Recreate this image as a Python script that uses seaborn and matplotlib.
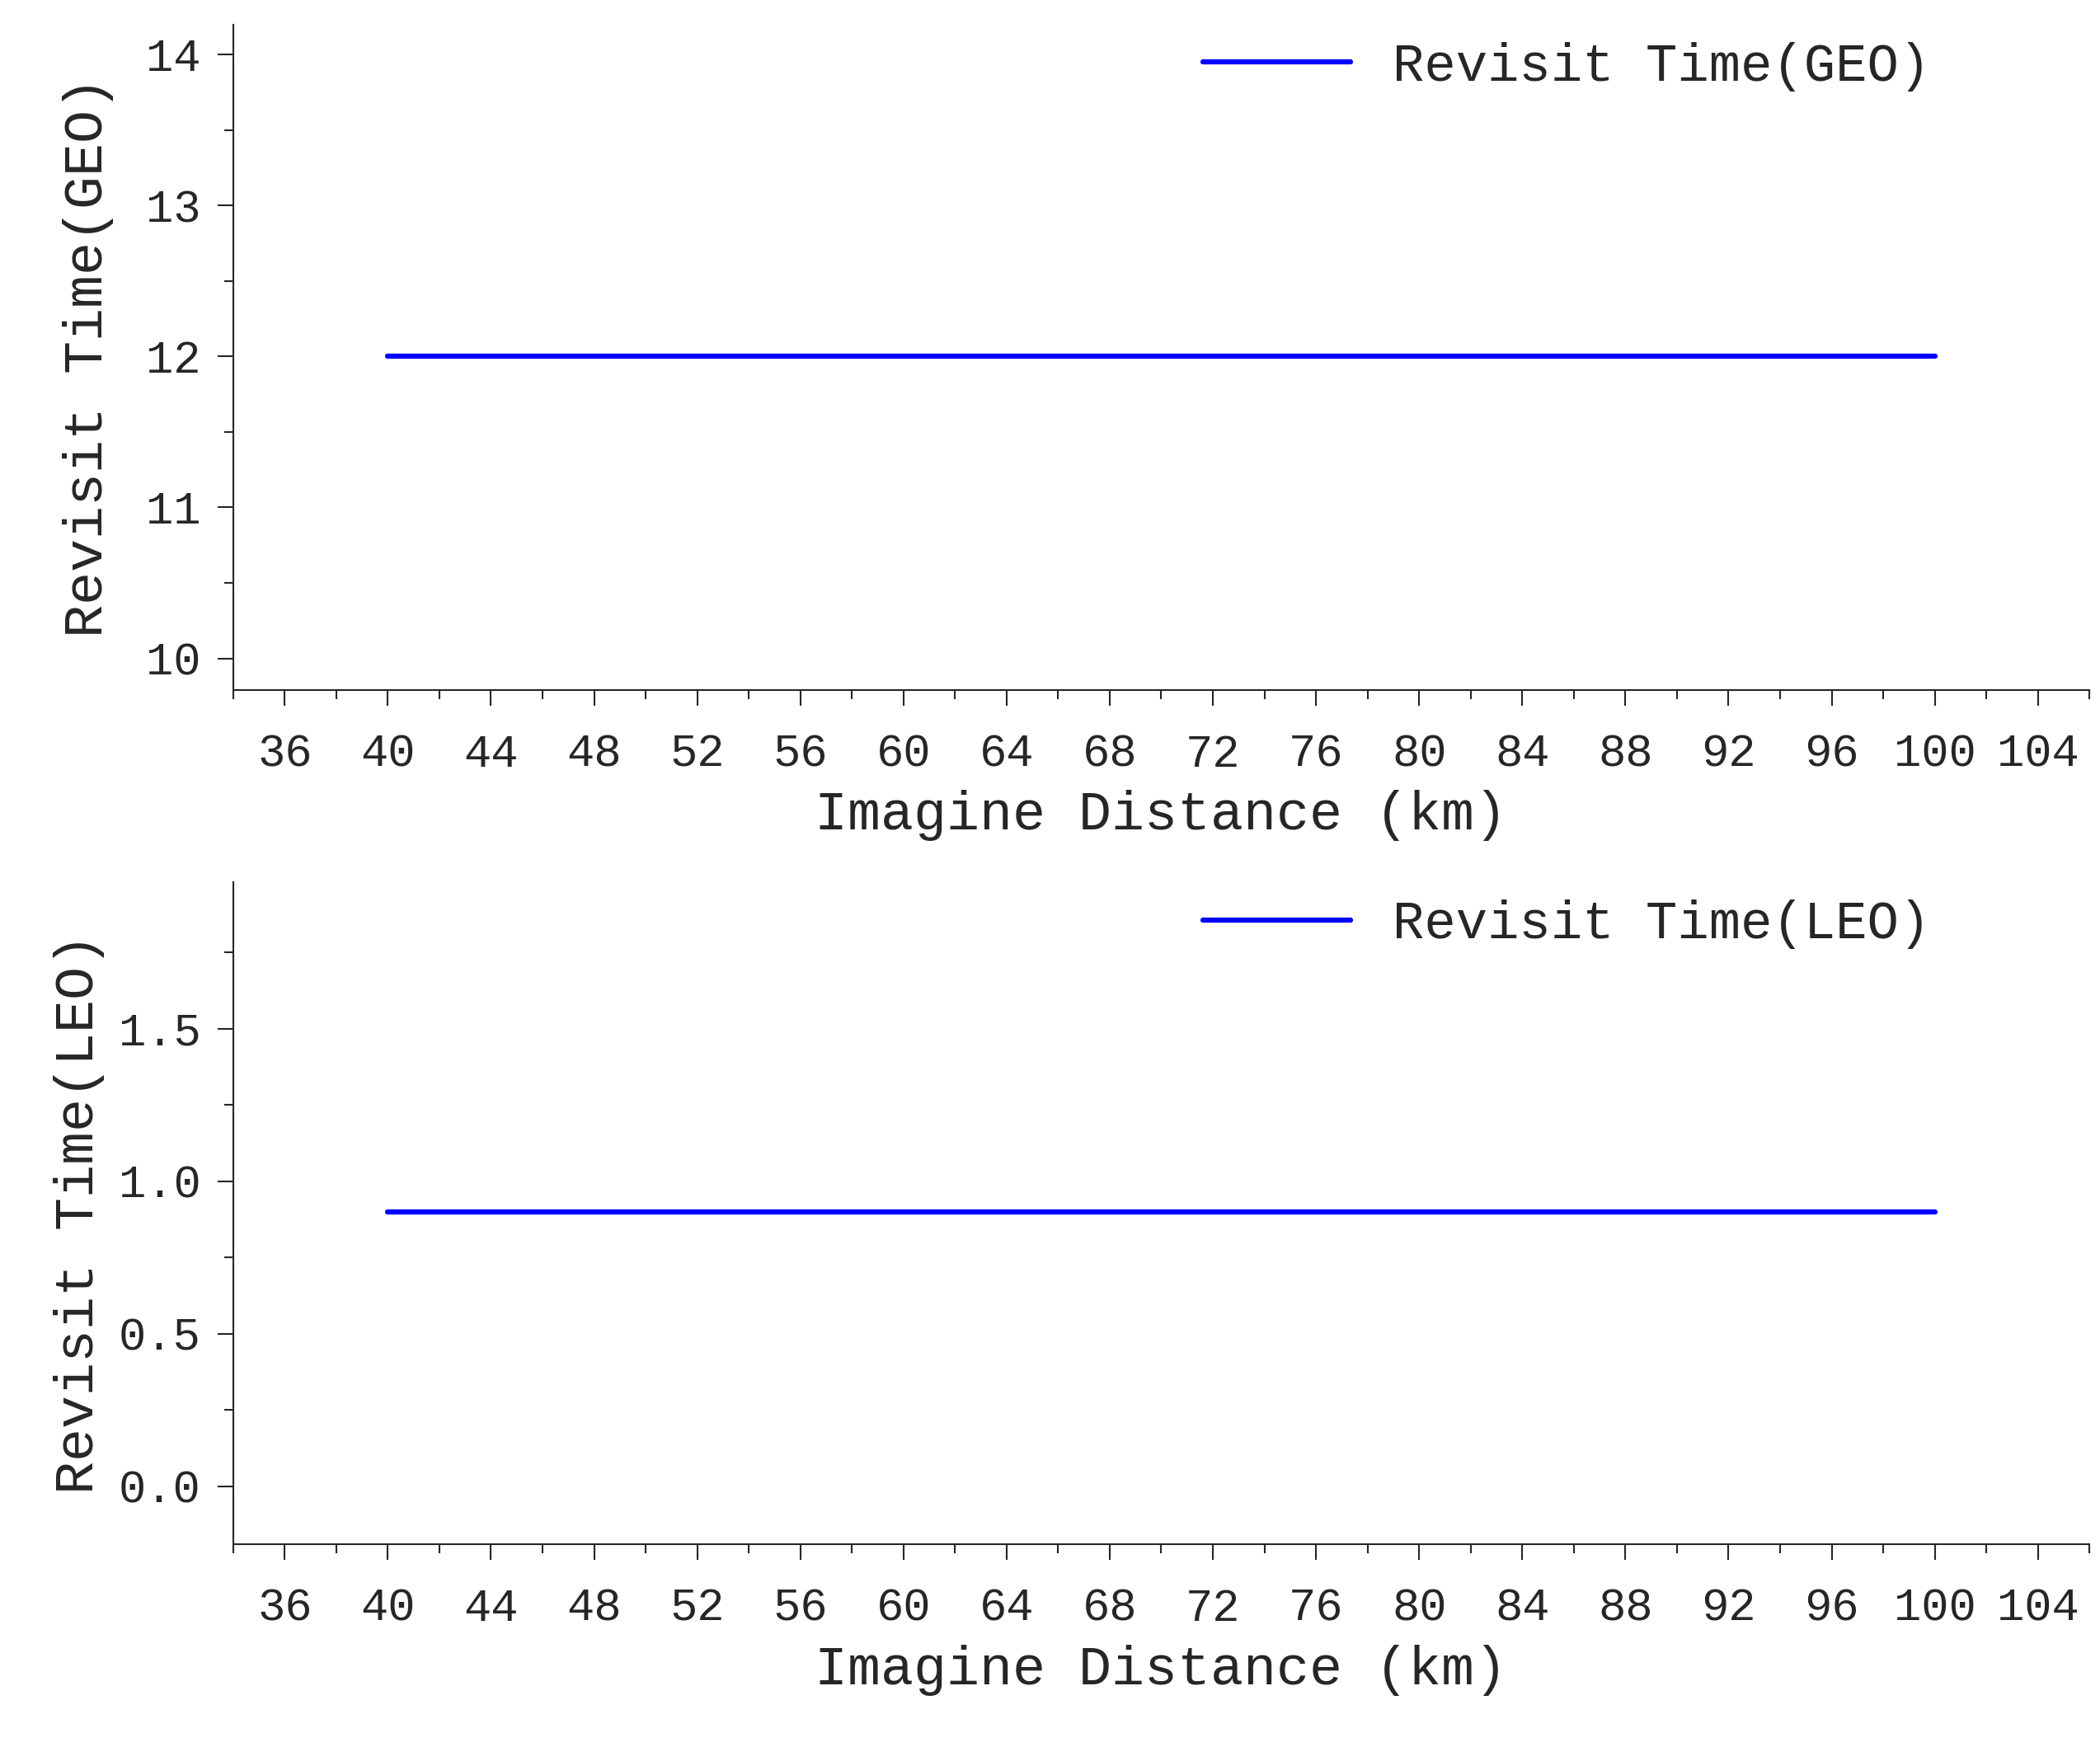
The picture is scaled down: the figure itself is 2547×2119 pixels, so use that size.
import matplotlib
matplotlib.use("Agg")
import matplotlib.pyplot as plt
import seaborn as sns
from matplotlib.ticker import MultipleLocator, FormatStrFormatter

distance = [40, 50, 60, 70, 80, 90, 100]
revisit_geo = [12, 12, 12, 12, 12, 12, 12]
revisit_leo = [0.9, 0.9, 0.9, 0.9, 0.9, 0.9, 0.9]

sns.set_style("ticks")
plt.rcParams['font.family'] = ['Liberation Mono', 'DejaVu Sans']

fig = plt.figure(figsize=(25.47, 21.19), dpi=100)
ax1 = fig.add_axes([0.111, 0.605, 0.884, 0.381])
ax2 = fig.add_axes([0.111, 0.116, 0.884, 0.379])

panels = [
    (ax1, revisit_geo, 'Revisit Time(GEO)', (9.79, 14.2), 1, 0.5, '%d', 28),
    (ax2, revisit_leo, 'Revisit Time(LEO)', (-0.19, 1.98), 0.5, 0.25, '%.1f', 12),
]
for ax, vals, name, ylim, major, minor, fmt, ylpad in panels:
    sns.lineplot(x=distance, y=vals, ax=ax, color='#0000ff', linewidth=4.5, label=name)
    ax.set_xlim(34, 106)
    ax.set_ylim(*ylim)
    ax.xaxis.set_major_locator(MultipleLocator(4))
    ax.xaxis.set_minor_locator(MultipleLocator(2))
    ax.yaxis.set_major_locator(MultipleLocator(major))
    ax.yaxis.set_minor_locator(MultipleLocator(minor))
    ax.yaxis.set_major_formatter(FormatStrFormatter(fmt))
    for s in ['top', 'right']:
        ax.spines[s].set_visible(False)
    for s in ['left', 'bottom']:
        ax.spines[s].set_linewidth(1.5)
    ax.tick_params(which='major', length=14, width=1.5, labelsize=40, direction='out')
    ax.tick_params(axis='x', which='major', pad=24)
    ax.tick_params(axis='y', which='major', pad=14)
    ax.tick_params(which='minor', length=8, width=1.5, direction='out')
    ax.set_xlabel('Imagine Distance (km)', fontsize=48, labelpad=12)
    ax.set_ylabel(name, fontsize=48, labelpad=ylpad)
    ax.legend(loc='upper right', frameon=False, fontsize=46, handlelength=2.8,
              bbox_to_anchor=(0.94, 1.045))

fig.savefig('out.png', dpi=100)
